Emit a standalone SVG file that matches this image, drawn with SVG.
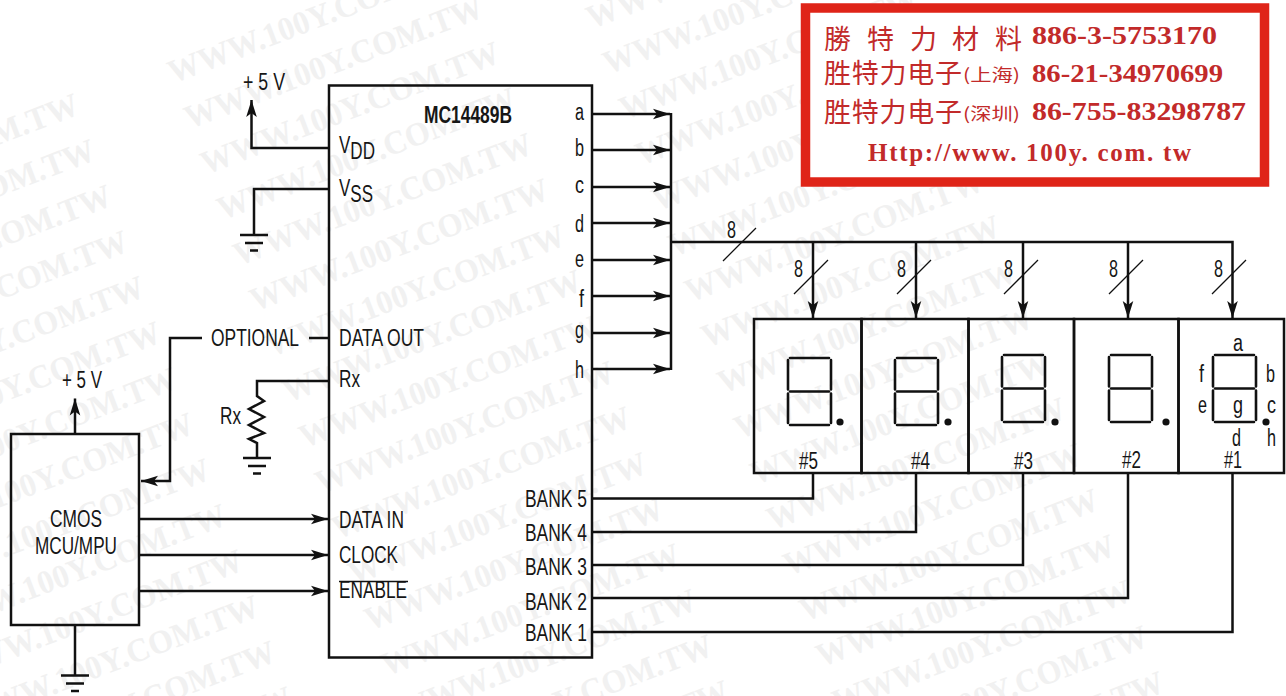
<svg xmlns="http://www.w3.org/2000/svg" width="1286" height="696" viewBox="0 0 1286 696">
<style>
text{font-family:"Liberation Sans Narrow","Liberation Sans",Arial,sans-serif;font-size:23px;fill:#161616}
.wm{font-family:"Liberation Serif",serif;font-weight:bold;font-size:33px;fill:#f1f1f1}
.ln{fill:none;stroke:#111;stroke-width:2.5;stroke-linejoin:miter}
.thin{fill:none;stroke:#111;stroke-width:1.3}
.box{fill:none;stroke:#111;stroke-width:2.5}
.seg{fill:none;stroke:#111;stroke-width:2.6;stroke-linecap:round}
.dot{fill:#111;stroke:none}
.rd{font-family:"Liberation Serif",serif;font-weight:bold;fill:#c22a2a;font-size:25px}
.cj{font-family:"Noto Sans CJK SC",sans-serif;fill:#c22a2a;font-size:27px}
.cs{font-family:"Noto Sans CJK SC",sans-serif;fill:#c22a2a;font-size:17px}
</style>
<defs>
<marker id="ah" markerUnits="userSpaceOnUse" markerWidth="20" markerHeight="14" viewBox="-18 -7 18 14" refX="0" refY="0" orient="auto"><path d="M0 0L-17 -5.300L-13 0L-17 5.300Z" fill="#111"/></marker>
<path id="gnd" d="M-14 0H14M-9 8H9M-4 15.500H4" class="ln"/>
<path id="digit" d="M2 0H41M0 2V31.500M43 2V31.500M2 33.500H41M0 35.500V65M43 35.500V65M2 67H41" class="seg"/>
</defs>
<rect width="1286" height="696" fill="#fff"/>
<g id="watermark">
<text class="wm" textLength="317" lengthAdjust="spacingAndGlyphs" transform="translate(-215 226.500) rotate(-20.900)">WWW.100Y.COM.TW</text>
<text class="wm" textLength="317" lengthAdjust="spacingAndGlyphs" transform="translate(-198.600 272.100) rotate(-20.900)">WWW.100Y.COM.TW</text>
<text class="wm" textLength="317" lengthAdjust="spacingAndGlyphs" transform="translate(-182.200 317.700) rotate(-20.900)">WWW.100Y.COM.TW</text>
<text class="wm" textLength="317" lengthAdjust="spacingAndGlyphs" transform="translate(-165.800 363.300) rotate(-20.900)">WWW.100Y.COM.TW</text>
<text class="wm" textLength="317" lengthAdjust="spacingAndGlyphs" transform="translate(-149.400 408.900) rotate(-20.900)">WWW.100Y.COM.TW</text>
<text class="wm" textLength="317" lengthAdjust="spacingAndGlyphs" transform="translate(-133 454.500) rotate(-20.900)">WWW.100Y.COM.TW</text>
<text class="wm" textLength="317" lengthAdjust="spacingAndGlyphs" transform="translate(-116.600 500.100) rotate(-20.900)">WWW.100Y.COM.TW</text>
<text class="wm" textLength="317" lengthAdjust="spacingAndGlyphs" transform="translate(-100.200 545.700) rotate(-20.900)">WWW.100Y.COM.TW</text>
<text class="wm" textLength="317" lengthAdjust="spacingAndGlyphs" transform="translate(-83.800 591.300) rotate(-20.900)">WWW.100Y.COM.TW</text>
<text class="wm" textLength="317" lengthAdjust="spacingAndGlyphs" transform="translate(-67.400 636.900) rotate(-20.900)">WWW.100Y.COM.TW</text>
<text class="wm" textLength="317" lengthAdjust="spacingAndGlyphs" transform="translate(-51 682.500) rotate(-20.900)">WWW.100Y.COM.TW</text>
<text class="wm" textLength="317" lengthAdjust="spacingAndGlyphs" transform="translate(-34.600 728.100) rotate(-20.900)">WWW.100Y.COM.TW</text>
<text class="wm" textLength="317" lengthAdjust="spacingAndGlyphs" transform="translate(-18.200 773.700) rotate(-20.900)">WWW.100Y.COM.TW</text>
<text class="wm" textLength="317" lengthAdjust="spacingAndGlyphs" transform="translate(-1.800 819.300) rotate(-20.900)">WWW.100Y.COM.TW</text>
<text class="wm" textLength="317" lengthAdjust="spacingAndGlyphs" transform="translate(173 83.500) rotate(-20.900)">WWW.100Y.COM.TW</text>
<text class="wm" textLength="317" lengthAdjust="spacingAndGlyphs" transform="translate(189.400 129.100) rotate(-20.900)">WWW.100Y.COM.TW</text>
<text class="wm" textLength="317" lengthAdjust="spacingAndGlyphs" transform="translate(205.800 174.700) rotate(-20.900)">WWW.100Y.COM.TW</text>
<text class="wm" textLength="317" lengthAdjust="spacingAndGlyphs" transform="translate(222.200 220.300) rotate(-20.900)">WWW.100Y.COM.TW</text>
<text class="wm" textLength="317" lengthAdjust="spacingAndGlyphs" transform="translate(238.600 265.900) rotate(-20.900)">WWW.100Y.COM.TW</text>
<text class="wm" textLength="317" lengthAdjust="spacingAndGlyphs" transform="translate(255 311.500) rotate(-20.900)">WWW.100Y.COM.TW</text>
<text class="wm" textLength="317" lengthAdjust="spacingAndGlyphs" transform="translate(271.400 357.100) rotate(-20.900)">WWW.100Y.COM.TW</text>
<text class="wm" textLength="317" lengthAdjust="spacingAndGlyphs" transform="translate(287.800 402.700) rotate(-20.900)">WWW.100Y.COM.TW</text>
<text class="wm" textLength="317" lengthAdjust="spacingAndGlyphs" transform="translate(304.200 448.300) rotate(-20.900)">WWW.100Y.COM.TW</text>
<text class="wm" textLength="317" lengthAdjust="spacingAndGlyphs" transform="translate(320.600 493.900) rotate(-20.900)">WWW.100Y.COM.TW</text>
<text class="wm" textLength="317" lengthAdjust="spacingAndGlyphs" transform="translate(337 539.500) rotate(-20.900)">WWW.100Y.COM.TW</text>
<text class="wm" textLength="317" lengthAdjust="spacingAndGlyphs" transform="translate(353.400 585.100) rotate(-20.900)">WWW.100Y.COM.TW</text>
<text class="wm" textLength="317" lengthAdjust="spacingAndGlyphs" transform="translate(369.800 630.700) rotate(-20.900)">WWW.100Y.COM.TW</text>
<text class="wm" textLength="317" lengthAdjust="spacingAndGlyphs" transform="translate(386.200 676.300) rotate(-20.900)">WWW.100Y.COM.TW</text>
<text class="wm" textLength="317" lengthAdjust="spacingAndGlyphs" transform="translate(402.600 721.900) rotate(-20.900)">WWW.100Y.COM.TW</text>
<text class="wm" textLength="317" lengthAdjust="spacingAndGlyphs" transform="translate(419 767.500) rotate(-20.900)">WWW.100Y.COM.TW</text>
<text class="wm" textLength="317" lengthAdjust="spacingAndGlyphs" transform="translate(435.400 813.100) rotate(-20.900)">WWW.100Y.COM.TW</text>
<text class="wm" textLength="317" lengthAdjust="spacingAndGlyphs" transform="translate(591.600 28.900) rotate(-20.900)">WWW.100Y.COM.TW</text>
<text class="wm" textLength="317" lengthAdjust="spacingAndGlyphs" transform="translate(608 74.500) rotate(-20.900)">WWW.100Y.COM.TW</text>
<text class="wm" textLength="317" lengthAdjust="spacingAndGlyphs" transform="translate(624.400 120.100) rotate(-20.900)">WWW.100Y.COM.TW</text>
<text class="wm" textLength="317" lengthAdjust="spacingAndGlyphs" transform="translate(640.800 165.700) rotate(-20.900)">WWW.100Y.COM.TW</text>
<text class="wm" textLength="317" lengthAdjust="spacingAndGlyphs" transform="translate(657.200 211.300) rotate(-20.900)">WWW.100Y.COM.TW</text>
<text class="wm" textLength="317" lengthAdjust="spacingAndGlyphs" transform="translate(673.600 256.900) rotate(-20.900)">WWW.100Y.COM.TW</text>
<text class="wm" textLength="317" lengthAdjust="spacingAndGlyphs" transform="translate(690 302.500) rotate(-20.900)">WWW.100Y.COM.TW</text>
<text class="wm" textLength="317" lengthAdjust="spacingAndGlyphs" transform="translate(706.400 348.100) rotate(-20.900)">WWW.100Y.COM.TW</text>
<text class="wm" textLength="317" lengthAdjust="spacingAndGlyphs" transform="translate(722.800 393.700) rotate(-20.900)">WWW.100Y.COM.TW</text>
<text class="wm" textLength="317" lengthAdjust="spacingAndGlyphs" transform="translate(739.200 439.300) rotate(-20.900)">WWW.100Y.COM.TW</text>
<text class="wm" textLength="317" lengthAdjust="spacingAndGlyphs" transform="translate(755.600 484.900) rotate(-20.900)">WWW.100Y.COM.TW</text>
<text class="wm" textLength="317" lengthAdjust="spacingAndGlyphs" transform="translate(772 530.500) rotate(-20.900)">WWW.100Y.COM.TW</text>
<text class="wm" textLength="317" lengthAdjust="spacingAndGlyphs" transform="translate(788.400 576.100) rotate(-20.900)">WWW.100Y.COM.TW</text>
<text class="wm" textLength="317" lengthAdjust="spacingAndGlyphs" transform="translate(804.800 621.700) rotate(-20.900)">WWW.100Y.COM.TW</text>
<text class="wm" textLength="317" lengthAdjust="spacingAndGlyphs" transform="translate(821.200 667.300) rotate(-20.900)">WWW.100Y.COM.TW</text>
<text class="wm" textLength="317" lengthAdjust="spacingAndGlyphs" transform="translate(837.600 712.900) rotate(-20.900)">WWW.100Y.COM.TW</text>
<text class="wm" textLength="317" lengthAdjust="spacingAndGlyphs" transform="translate(854 758.500) rotate(-20.900)">WWW.100Y.COM.TW</text>
<text class="wm" textLength="317" lengthAdjust="spacingAndGlyphs" transform="translate(870.400 804.100) rotate(-20.900)">WWW.100Y.COM.TW</text>
</g>
<g id="connectors">
<path class="ln" d="M329 148H251.500V100" marker-end="url(#ah)"/>
<path class="ln" d="M329 189H254V235"/>
<use href="#gnd" x="254" y="235"/>
<path class="ln" d="M75 434V398.500" marker-end="url(#ah)"/>
<path class="ln" d="M75 625V675.500"/>
<use href="#gnd" x="75" y="675.500"/>
<path class="ln" d="M329 338H309"/>
<path class="ln" d="M202 338H170V481H141" marker-end="url(#ah)"/>
<path class="ln" d="M329 381H257V396L264 401L249 409L264 417L249 425L264 433L249 439L257 443V458"/>
<use href="#gnd" x="257" y="458"/>
<path class="ln" d="M139 519H328" marker-end="url(#ah)"/>
<path class="ln" d="M139 555H328" marker-end="url(#ah)"/>
<path class="ln" d="M139 591H328" marker-end="url(#ah)"/>
<path class="ln" d="M592 114H670" marker-end="url(#ah)"/>
<path class="ln" d="M592 150H670" marker-end="url(#ah)"/>
<path class="ln" d="M592 187H670" marker-end="url(#ah)"/>
<path class="ln" d="M592 223H670" marker-end="url(#ah)"/>
<path class="ln" d="M592 260H670" marker-end="url(#ah)"/>
<path class="ln" d="M592 296H670" marker-end="url(#ah)"/>
<path class="ln" d="M592 333H670" marker-end="url(#ah)"/>
<path class="ln" d="M592 369H670" marker-end="url(#ah)"/>
<path class="ln" d="M671 113V370"/>
<path class="ln" d="M671 242H1232.500V318" marker-end="url(#ah)"/>
<path class="ln" d="M813 242V318" marker-end="url(#ah)"/>
<path class="ln" d="M916 242V318" marker-end="url(#ah)"/>
<path class="ln" d="M1023 242V318" marker-end="url(#ah)"/>
<path class="ln" d="M1128 242V318" marker-end="url(#ah)"/>
<path class="thin" d="M723 261L756 228M794 294L828 260M897 294L931 260M1004 294L1038 260M1109 294L1143 260M1212 294L1246 260"/>
<path class="ln" d="M592 498.500H813V473"/>
<path class="ln" d="M592 532H916V473"/>
<path class="ln" d="M592 565H1023V473"/>
<path class="ln" d="M592 598H1128V473"/>
<path class="ln" d="M592 632H1232.500V473"/>
<text x="727" y="238" textLength="9" lengthAdjust="spacingAndGlyphs">8</text>
<text x="794" y="277" textLength="9" lengthAdjust="spacingAndGlyphs">8</text>
<text x="897" y="277" textLength="9" lengthAdjust="spacingAndGlyphs">8</text>
<text x="1004" y="277" textLength="9" lengthAdjust="spacingAndGlyphs">8</text>
<text x="1109" y="277" textLength="9" lengthAdjust="spacingAndGlyphs">8</text>
<text x="1214" y="277" textLength="9" lengthAdjust="spacingAndGlyphs">8</text>
<text x="243" y="90" textLength="42" lengthAdjust="spacingAndGlyphs">+ 5 V</text>
<text x="62" y="388" textLength="40" lengthAdjust="spacingAndGlyphs">+ 5 V</text>
<text x="211" y="346" textLength="88" lengthAdjust="spacingAndGlyphs">OPTIONAL</text>
<text x="220" y="424" textLength="21" lengthAdjust="spacingAndGlyphs">Rx</text>
</g>
<g id="mc14489b">
<rect class="box" x="329" y="85.500" width="263" height="572"/>
<text x="424" y="123" style="font-weight:bold" textLength="88" lengthAdjust="spacingAndGlyphs">MC14489B</text>
<text x="339" y="153" textLength="36" lengthAdjust="spacingAndGlyphs">V<tspan dy="6">DD</tspan></text>
<text x="339" y="196" textLength="34" lengthAdjust="spacingAndGlyphs">V<tspan dy="6">SS</tspan></text>
<text x="339" y="346" textLength="85" lengthAdjust="spacingAndGlyphs">DATA OUT</text>
<text x="339" y="387" textLength="21" lengthAdjust="spacingAndGlyphs">Rx</text>
<text x="339" y="528" textLength="65" lengthAdjust="spacingAndGlyphs">DATA IN</text>
<text x="339" y="563" textLength="59" lengthAdjust="spacingAndGlyphs">CLOCK</text>
<text x="339" y="598" textLength="68" lengthAdjust="spacingAndGlyphs">ENABLE</text>
<path class="thin" d="M339 581.500H408"/>
<text x="575" y="120" textLength="9" lengthAdjust="spacingAndGlyphs">a</text>
<text x="575" y="156" textLength="9" lengthAdjust="spacingAndGlyphs">b</text>
<text x="575" y="193" textLength="9" lengthAdjust="spacingAndGlyphs">c</text>
<text x="575" y="232" textLength="9" lengthAdjust="spacingAndGlyphs">d</text>
<text x="575" y="267" textLength="9" lengthAdjust="spacingAndGlyphs">e</text>
<text x="579" y="307" textLength="5" lengthAdjust="spacingAndGlyphs">f</text>
<text x="575" y="338" textLength="9" lengthAdjust="spacingAndGlyphs">g</text>
<text x="575" y="378" textLength="9" lengthAdjust="spacingAndGlyphs">h</text>
<text x="525" y="507" textLength="62" lengthAdjust="spacingAndGlyphs">BANK 5</text>
<text x="525" y="541" textLength="62" lengthAdjust="spacingAndGlyphs">BANK 4</text>
<text x="525" y="575" textLength="62" lengthAdjust="spacingAndGlyphs">BANK 3</text>
<text x="525" y="610" textLength="62" lengthAdjust="spacingAndGlyphs">BANK 2</text>
<text x="525" y="641" textLength="62" lengthAdjust="spacingAndGlyphs">BANK 1</text>
</g>
<g id="mcu">
<rect class="box" x="11" y="434" width="128" height="191"/>
<text x="50" y="527" textLength="52" lengthAdjust="spacingAndGlyphs">CMOS</text>
<text x="35" y="554" textLength="82" lengthAdjust="spacingAndGlyphs">MCU/MPU</text>
</g>
<g id="display-5">
<rect class="box" x="754" y="319" width="107.500" height="154"/>
<use href="#digit" x="788" y="358"/><circle class="dot" cx="840" cy="422" r="3.600"/>
<text x="799" y="469" textLength="19" lengthAdjust="spacingAndGlyphs">#5</text>
</g>
<g id="display-4">
<rect class="box" x="861.500" y="319" width="107" height="154"/>
<use href="#digit" x="895" y="358"/><circle class="dot" cx="948" cy="422" r="3.600"/>
<text x="911" y="469" textLength="19" lengthAdjust="spacingAndGlyphs">#4</text>
</g>
<g id="display-3">
<rect class="box" x="968.500" y="319" width="105.500" height="154"/>
<use href="#digit" x="1002" y="355"/><circle class="dot" cx="1055" cy="422" r="3.600"/>
<text x="1014" y="469" textLength="19" lengthAdjust="spacingAndGlyphs">#3</text>
</g>
<g id="display-2">
<rect class="box" x="1074" y="319" width="104.500" height="154"/>
<use href="#digit" x="1109" y="355"/><circle class="dot" cx="1166" cy="422" r="3.600"/>
<text x="1122" y="468" textLength="19" lengthAdjust="spacingAndGlyphs">#2</text>
</g>
<g id="display-1">
<rect class="box" x="1178.500" y="319" width="105.500" height="154"/>
<use href="#digit" x="1213" y="355"/><circle class="dot" cx="1266" cy="422" r="3.600"/>
<text x="1224" y="468" textLength="18" lengthAdjust="spacingAndGlyphs">#1</text>
<text x="1233" y="351" textLength="10" lengthAdjust="spacingAndGlyphs">a</text>
<text x="1199" y="382" textLength="5" lengthAdjust="spacingAndGlyphs">f</text>
<text x="1266" y="382" textLength="9" lengthAdjust="spacingAndGlyphs">b</text>
<text x="1198" y="413" textLength="9" lengthAdjust="spacingAndGlyphs">e</text>
<text x="1233" y="413" textLength="10" lengthAdjust="spacingAndGlyphs">g</text>
<text x="1267" y="413" textLength="9" lengthAdjust="spacingAndGlyphs">c</text>
<text x="1232" y="446" textLength="9" lengthAdjust="spacingAndGlyphs">d</text>
<text x="1267" y="446" textLength="9" lengthAdjust="spacingAndGlyphs">h</text>
</g>
<g id="logo">
<rect x="805.500" y="8" width="459" height="174" fill="#fff" stroke="#df2418" stroke-width="9.500"/>
<text class="cj" x="824 867 910 952 995" y="49">勝特力材料</text>
<text class="rd" x="1032" y="44" textLength="185" lengthAdjust="spacingAndGlyphs">886-3-5753170</text>
<text class="cj" x="824" y="83" textLength="138" lengthAdjust="spacing">胜特力电子</text>
<text class="cs" x="963" y="81" textLength="57" lengthAdjust="spacingAndGlyphs">(上海)</text>
<text class="rd" x="1032" y="82" textLength="191" lengthAdjust="spacingAndGlyphs">86-21-34970699</text>
<text class="cj" x="824" y="122" textLength="138" lengthAdjust="spacing">胜特力电子</text>
<text class="cs" x="963" y="120" textLength="57" lengthAdjust="spacingAndGlyphs">(深圳)</text>
<text class="rd" x="1032" y="120" textLength="214" lengthAdjust="spacingAndGlyphs">86-755-83298787</text>
<text class="rd" x="868" y="161" style="font-size:25px" textLength="323" lengthAdjust="spacing">Http://www. 100y. com. tw</text>
</g>
</svg>
